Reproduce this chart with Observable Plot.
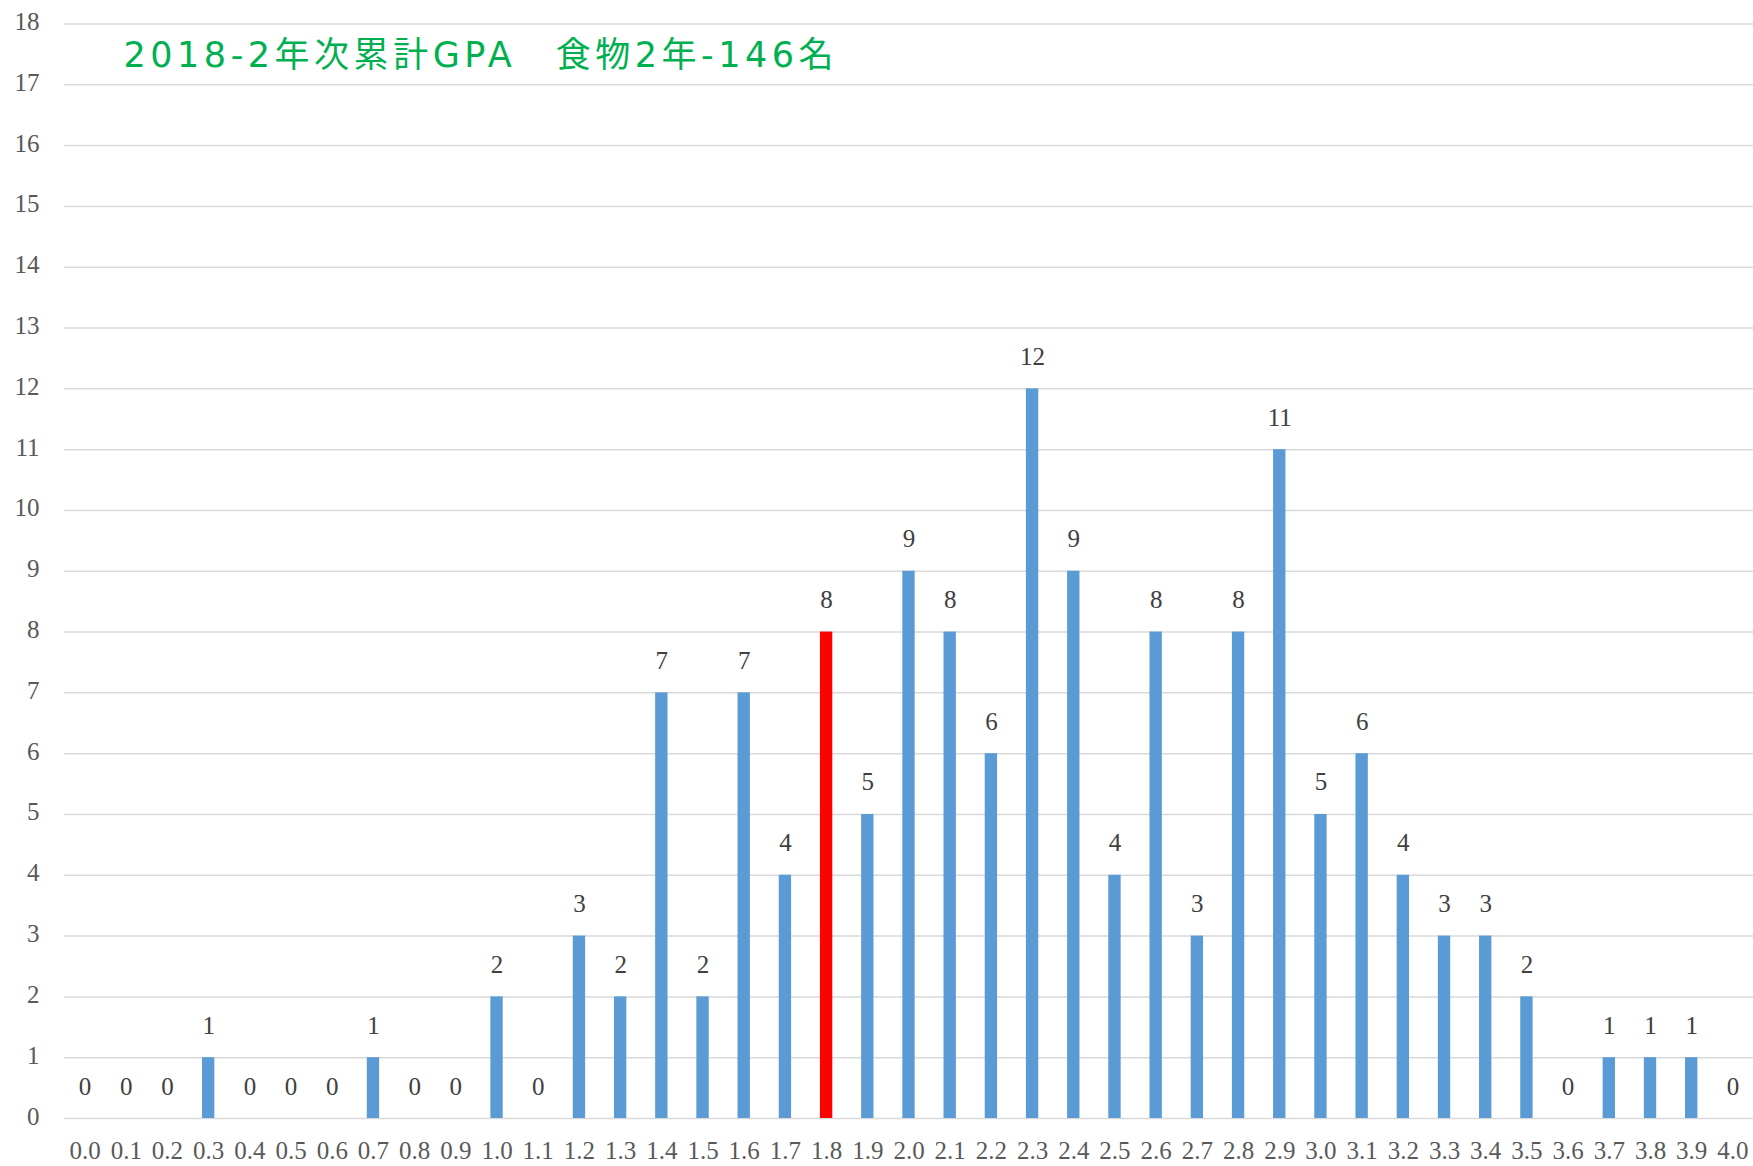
<!DOCTYPE html>
<html>
<head>
<meta charset="utf-8">
<script src="https://cdn.jsdelivr.net/npm/d3@7"></script>
<script src="https://cdn.jsdelivr.net/npm/@observablehq/plot@0.6"></script>
<style>
  html, body { margin: 0; padding: 0; background: #ffffff; }
  #chart { width: 1753px; height: 1166px; }
</style>
</head>
<body>
<div id="chart"></div>
<script>
const titleText = "2018-2年次累計GPA\u3000食物2年-146名";
const gpaBins = ["0.0","0.1","0.2","0.3","0.4","0.5","0.6","0.7","0.8","0.9",
                 "1.0","1.1","1.2","1.3","1.4","1.5","1.6","1.7","1.8","1.9",
                 "2.0","2.1","2.2","2.3","2.4","2.5","2.6","2.7","2.8","2.9",
                 "3.0","3.1","3.2","3.3","3.4","3.5","3.6","3.7","3.8","3.9","4.0"];
const counts = [0,0,0,1,0,0,0,1,0,0,
                2,0,3,2,7,2,7,4,8,5,
                9,8,6,12,9,4,8,3,8,11,
                5,6,4,3,3,2,0,1,1,1,0];
const highlightBin = "1.8";
const yTicks = d3.range(0, 19);

const data = gpaBins.map((g, i) => ({g, n: counts[i]}));
const serif = "Liberation Serif";

const chart = Plot.plot({
  width: 1753,
  height: 1166,
  marginLeft: 64,
  marginRight: 0,
  marginTop: 23.5,
  marginBottom: 48,
  style: {background: "#ffffff", color: "#595959"},
  x: {domain: gpaBins, paddingInner: 0.7, paddingOuter: 0.35, round: false, label: null},
  y: {domain: [0, 18], label: null},
  color: {type: "identity"},
  marks: [
    Plot.ruleY(yTicks, {stroke: "#d9d9d9", strokeWidth: 1.5}),
    Plot.barY(data, {x: "g", y: "n", fill: d => d.g === highlightBin ? "#FF0000" : "#5B9BD5"}),
    Plot.text(data, {x: "g", y: "n", text: d => String(d.n), dy: -32, lineAnchor: "middle",
      fill: "#404040", fontSize: 25, fontFamily: serif}),
    Plot.axisY({ticks: yTicks, tickSize: 0, tickPadding: 25, tickFormat: d => String(d), dy: -2,
      fontSize: 25, fontFamily: serif, fill: "#595959"}),
    Plot.axisX({tickSize: 0, tickPadding: 23, fontSize: 25, fontFamily: serif, fill: "#595959"}),
    Plot.text([titleText], {frameAnchor: "top-left", dx: 59, dy: 43, lineAnchor: "bottom", textAnchor: "start",
      fill: "#00B050", fontSize: 35, fontFamily: "DejaVu Sans, Noto Sans CJK JP", fontWeight: 400,
      className: "chart-title"})
  ]
});
document.getElementById("chart").appendChild(chart);
// stretch the title's letter spacing to the reference width
chart.querySelectorAll(".chart-title text").forEach(t => {
  t.setAttribute("textLength", 710);
  t.setAttribute("lengthAdjust", "spacing");
});
</script>
</body>
</html>
